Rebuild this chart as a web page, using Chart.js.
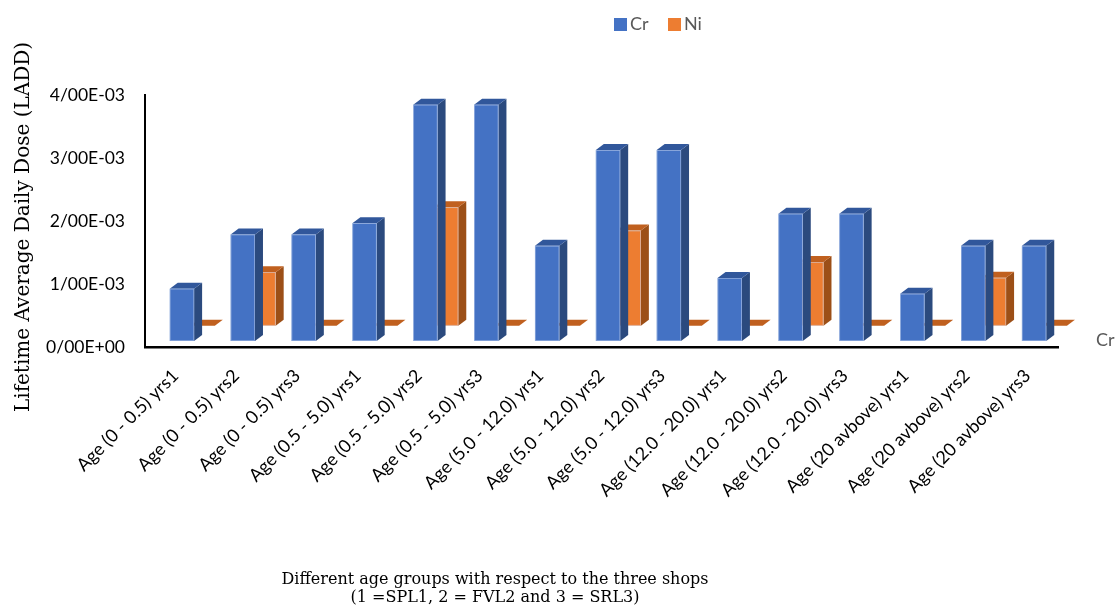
<!DOCTYPE html>
<html>
<head>
<meta charset="utf-8">
<script src="https://cdn.jsdelivr.net/npm/chart.js@4/dist/chart.umd.min.js"></script>
<style>
  html, body { margin: 0; padding: 0; background: #ffffff; }
  #wrap { width: 1119px; height: 614px; position: relative; }
</style>
</head>
<body>
<div id="wrap"><canvas id="c" width="1119" height="614"></canvas></div>
<script>
// Age groups per shop (1 = SPL1, 2 = FVL2, 3 = SRL3)
const categories = [
  'Age (0 - 0.5) yrs1', 'Age (0 - 0.5) yrs2', 'Age (0 - 0.5) yrs3',
  'Age (0.5 - 5.0) yrs1', 'Age (0.5 - 5.0) yrs2', 'Age (0.5 - 5.0) yrs3',
  'Age (5.0 - 12.0) yrs1', 'Age (5.0 - 12.0) yrs2', 'Age (5.0 - 12.0) yrs3',
  'Age (12.0 - 20.0) yrs1', 'Age (12.0 - 20.0) yrs2', 'Age (12.0 - 20.0) yrs3',
  'Age (20 avbove) yrs1', 'Age (20 avbove) yrs2', 'Age (20 avbove) yrs3'
];

// Lifetime average daily dose (LADD)
const crValues = [0.00083, 0.00169, 0.00169, 0.00187, 0.00375, 0.00375, 0.00151, 0.00303, 0.00303,
                  0.00100, 0.00202, 0.00202, 0.00075, 0.00151, 0.00151];
const niValues = [0, 0.00085, 0, 0, 0.00188, 0, 0, 0.00151, 0, 0, 0.00101, 0, 0, 0.00076, 0];

const yTickLabels = ['0/00E+00', '1/00E-03', '2/00E-03', '3/00E-03', '4/00E-03'];

const yTitle = 'Lifetime Average Daily Dose (LADD)';
const xTitle = ['Different age groups with respect to the three shops', '(1 =SPL1, 2 = FVL2 and 3 = SRL3)'];

// face colours: front, top, side
const palette = {
  Cr: { front: '#4472C4', top: '#31579B', side: '#2B4A7E' },
  Ni: { front: '#ED7D31', top: '#C0601F', side: '#9C4F17' }
};

const sansFont = 'Lato, "Open Sans", sans-serif';
const serifFont = '"DejaVu Serif", "Liberation Serif", serif';

// oblique projection: box depth and the offset of each series row
const DEPTH = { dx: 8, dy: -6 };
const ROW_SHIFT = [{ dx: 6.5, dy: -6 }, { dx: 27.2, dy: -21.3 }];

function drawBox(ctx, x0, x1, yT, yB, c) {
  const dx = DEPTH.dx, dy = DEPTH.dy;
  // side face
  ctx.fillStyle = c.side;
  ctx.beginPath();
  ctx.moveTo(x1, yT); ctx.lineTo(x1 + dx, yT + dy);
  ctx.lineTo(x1 + dx, yB + dy); ctx.lineTo(x1, yB);
  ctx.closePath(); ctx.fill();
  // top face
  ctx.fillStyle = c.top;
  ctx.beginPath();
  ctx.moveTo(x0, yT); ctx.lineTo(x1, yT);
  ctx.lineTo(x1 + dx, yT + dy); ctx.lineTo(x0 + dx, yT + dy);
  ctx.closePath(); ctx.fill();
  // front face
  if (yB - yT > 0.5) {
    ctx.fillStyle = c.front;
    ctx.fillRect(x0, yT, x1 - x0, yB - yT);
    ctx.strokeStyle = 'rgba(200,215,240,0.55)';
    ctx.lineWidth = 0.8;
    ctx.strokeRect(x0 + 0.4, yT + 0.4, x1 - x0 - 0.8, yB - yT - 0.8);
  }
}

const box3d = {
  id: 'box3d',
  beforeDatasetsDraw(chart) {
    const ctx = chart.ctx;
    ctx.save();
    // back row (Ni) first, then the front row (Cr)
    for (let di = chart.data.datasets.length - 1; di >= 0; di--) {
      const meta = chart.getDatasetMeta(di);
      const c = palette[chart.data.datasets[di].label];
      const s = ROW_SHIFT[di];
      meta.data.forEach(el => {
        const w = el.width;
        const x0 = el.x - w / 2 + s.dx;
        drawBox(ctx, x0, x0 + w, el.y + s.dy, el.base + s.dy, c);
      });
    }
    ctx.restore();
    return false;
  },
  afterDraw(chart) {
    const ctx = chart.ctx;
    ctx.save();
    // legend
    const ds = chart.data.datasets;
    const legendX = [614, 668];
    ctx.font = '18px ' + sansFont;
    ctx.textBaseline = 'middle';
    ctx.textAlign = 'left';
    ds.forEach((d, i) => {
      ctx.fillStyle = palette[d.label].front;
      ctx.fillRect(legendX[i], 18, 13, 13);
      ctx.fillStyle = '#595959';
      ctx.fillText(d.label, legendX[i] + 16, 24.5);
    });
    // series (depth) axis label
    ctx.fillText(ds[0].label, 1096, 340);

    // value axis title
    ctx.fillStyle = '#000000';
    ctx.font = '20px ' + serifFont;
    ctx.translate(24, 227);
    ctx.rotate(-Math.PI / 2);
    ctx.textAlign = 'center';
    ctx.fillText(yTitle, 0, 0);
    ctx.setTransform(1, 0, 0, 1, 0, 0);

    // category axis title
    ctx.font = '16px ' + serifFont;
    ctx.textAlign = 'center';
    ctx.textBaseline = 'alphabetic';
    ctx.fillText(xTitle[0], 495, 584);
    ctx.fillText(xTitle[1], 495, 602);
    ctx.restore();
  }
};

new Chart(document.getElementById('c'), {
  type: 'bar',
  data: {
    labels: categories,
    datasets: [
      { label: 'Cr', data: crValues, backgroundColor: palette.Cr.front, grouped: false },
      { label: 'Ni', data: niValues, backgroundColor: palette.Ni.front, grouped: false }
    ]
  },
  options: {
    responsive: false,
    animation: false,
    devicePixelRatio: 1,
    layout: { padding: { top: 95, right: 61, bottom: 0, left: 0 } },
    datasets: { bar: { categoryPercentage: 1, barPercentage: 0.4 } },
    plugins: { legend: { display: false }, tooltip: { enabled: false } },
    scales: {
      x: {
        grid: { display: false, drawTicks: false },
        border: { display: true, color: '#000000', width: 2.5 },
        ticks: {
          autoSkip: false, minRotation: 45, maxRotation: 45, padding: 18,
          color: '#000000', font: { family: sansFont, size: 18 }
        },
        afterFit(scale) { scale.height = 267; }
      },
      y: {
        min: 0, max: 0.004,
        grid: { display: false, drawTicks: false },
        border: { display: true, color: '#000000', width: 2 },
        ticks: {
          stepSize: 0.001, padding: 20, color: '#000000',
          font: { family: sansFont, size: 17.5 },
          callback: (v, i) => yTickLabels[i]
        },
        afterFit(scale) { scale.width = 145; }
      }
    }
  },
  plugins: [box3d]
});
</script>
</body>
</html>
